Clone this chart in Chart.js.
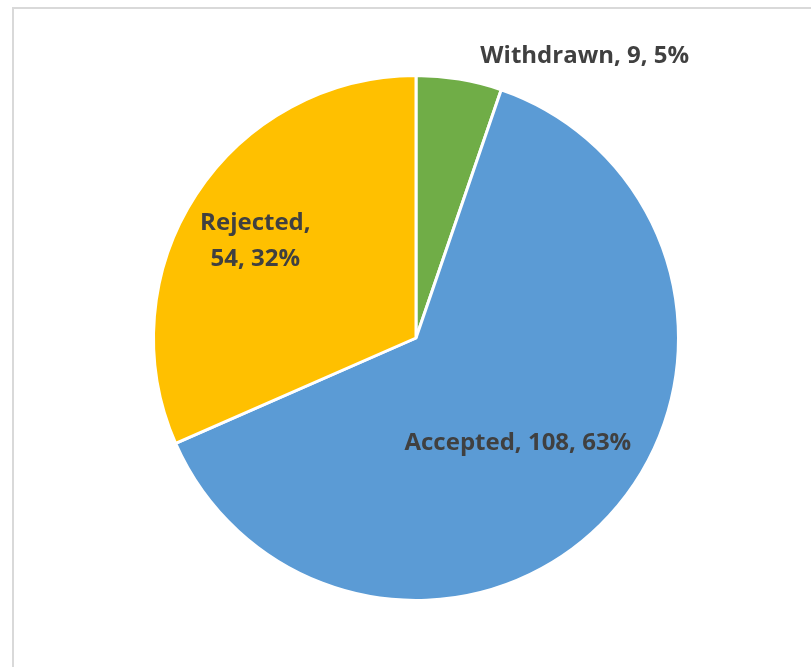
<!DOCTYPE html>
<html>
<head>
<meta charset="utf-8">
<script src="https://cdn.jsdelivr.net/npm/chart.js@4/dist/chart.umd.min.js"></script>
<style>
  html, body { margin: 0; padding: 0; background: #fff; overflow: hidden; }
  #frame {
    position: absolute; left: 12px; top: 7px; width: 900px; height: 800px;
    border: 2px solid #d9d9d9;
  }
  #wrap { position: absolute; left: 0; top: 0; width: 811px; height: 667px; }
</style>
</head>
<body>
<div id="frame"></div>
<div id="wrap"><canvas id="pieChart" width="811" height="667"></canvas></div>
<script>
const categories = ["Withdrawn", "Accepted", "Rejected"];
const counts = [9, 108, 54];
const sliceColors = ["#70AD47", "#5B9BD5", "#FFC000"];

// label anchor offsets from pie centre, in units of radius (x, baseline y per line)
const labelAnchors = [
  { dx: 0.643, lines: [-1.049], split: false },
  { dx: 0.388, lines: [0.426], split: false },
  { dx: -0.612, lines: [-0.411, -0.274], split: true }
];

const total = counts.reduce((a, b) => a + b, 0);

const sliceLabels = {
  id: "sliceLabels",
  afterDatasetsDraw(chart) {
    const ctx = chart.ctx;
    const meta = chart.getDatasetMeta(0);
    ctx.save();
    ctx.fillStyle = "#404040";
    ctx.font = "bold 24px 'Open Sans'";
    ctx.textAlign = "center";
    ctx.textBaseline = "alphabetic";
    meta.data.forEach((arc, i) => {
      const pct = Math.round(counts[i] / total * 100);
      const a = labelAnchors[i];
      const R = arc.outerRadius;
      const parts = a.split
        ? [categories[i] + ",", counts[i] + ", " + pct + "%"]
        : [categories[i] + ", " + counts[i] + ", " + pct + "%"];
      parts.forEach((t, k) => {
        ctx.fillText(t, arc.x + a.dx * R, arc.y + a.lines[k] * R);
      });
    });
    ctx.restore();
  }
};

new Chart(document.getElementById("pieChart"), {
  type: "pie",
  data: {
    labels: categories,
    datasets: [{
      data: counts,
      backgroundColor: sliceColors,
      borderColor: "#ffffff",
      borderWidth: 3
    }]
  },
  options: {
    responsive: false,
    animation: false,
    layout: { padding: { left: 152, right: 131, top: 74, bottom: 65 } },
    plugins: {
      legend: { display: false },
      tooltip: { enabled: false }
    }
  },
  plugins: [sliceLabels]
});
</script>
</body>
</html>
